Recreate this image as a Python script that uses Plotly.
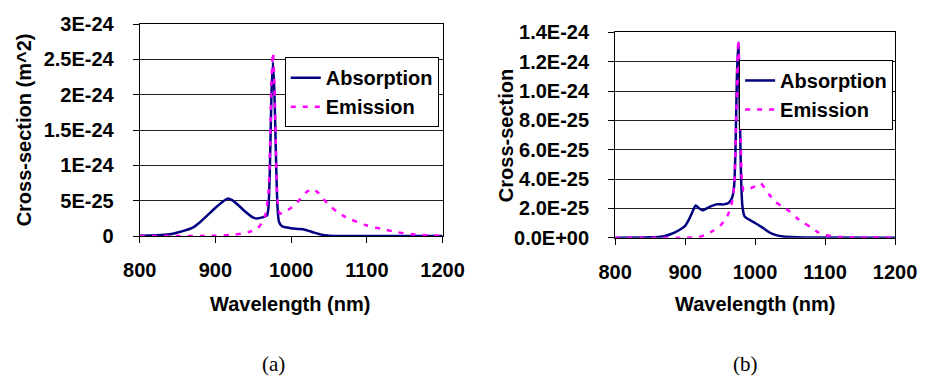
import plotly.graph_objects as go

# ---------------- data (cross-sections in units of 1e-25 m^2) ----------------
wl_abs_a = [800, 820, 840, 850, 860, 870, 880, 890, 900, 910, 916, 922, 930, 940, 950, 955,
            962, 968, 970, 972, 974, 976, 978, 980, 982, 984, 988, 995, 1000, 1010, 1018,
            1030, 1040, 1050, 1070, 1100, 1200]
abs_a = [0.05, 0.1, 0.25, 0.5, 0.8, 1.2, 2.0, 3.0, 4.0, 4.9, 5.3, 5.1, 4.4, 3.4, 2.6, 2.5,
         2.65, 2.9, 4.0, 10.0, 20.0, 24.6, 20.0, 11.0, 4.0, 2.0, 1.4, 1.2, 1.1, 1.0, 0.9,
         0.5, 0.2, 0.06, 0.02, 0.01, 0.0]

wl_em_a = [800, 850, 880, 900, 920, 935, 945, 955, 962, 966, 970, 972, 974, 976, 978, 980,
           982, 985, 990, 1000, 1010, 1020, 1028, 1035, 1040, 1050, 1060, 1070, 1080, 1090,
           1100, 1120, 1140, 1160, 1180, 1200]
em_a = [0.0, 0.0, 0.02, 0.05, 0.15, 0.35, 0.6, 1.0, 2.0, 3.0, 6.0, 12.0, 22.0, 26.0, 21.0, 12.0,
        5.0, 3.2, 3.3, 4.0, 5.0, 6.2, 6.7, 6.2, 5.6, 4.4, 3.5, 2.8, 2.3, 1.9,
        1.5, 1.0, 0.55, 0.25, 0.1, 0.05]

wl_abs_b = [800, 850, 870, 880, 890, 900, 905, 910, 915, 920, 925, 935, 945, 955, 962, 967,
            970, 972, 974, 976, 978, 980, 982, 985, 990, 1000, 1010, 1020, 1030, 1040, 1060,
            1080, 1200]
abs_b = [0.0, 0.02, 0.1, 0.25, 0.47, 0.8, 1.2, 1.7, 2.2, 2.0, 1.87, 2.1, 2.27, 2.27, 2.36, 2.7,
         3.5, 6.0, 11.0, 13.3, 9.0, 4.0, 2.1, 1.45, 1.27, 1.0, 0.7, 0.37, 0.17, 0.08, 0.03,
         0.01, 0.0]

wl_em_b = [800, 900, 915, 920, 930, 940, 950, 960, 966, 970, 973, 976, 979, 981, 984, 990,
           1000, 1008, 1020, 1030, 1040, 1050, 1060, 1070, 1080, 1090, 1100, 1120, 1140, 1200]
em_b = [0.0, 0.0, 0.02, 0.05, 0.2, 0.47, 0.8, 1.44, 2.2, 3.5, 8.0, 13.5, 8.0, 4.0, 3.2, 3.3,
        3.5, 3.7, 2.95, 2.4, 2.1, 1.77, 1.33, 1.0, 0.7, 0.37, 0.17, 0.05, 0.02, 0.0]

x_ticks = [800, 900, 1000, 1100, 1200]
y_ticks_a = [0, 5e-25, 1e-24, 1.5e-24, 2e-24, 2.5e-24, 3e-24]
y_text_a = ["0", "5E-25", "1E-24", "1.5E-24", "2E-24", "2.5E-24", "3E-24"]
y_ticks_b = [0, 2e-25, 4e-25, 6e-25, 8e-25, 1e-24, 1.2e-24, 1.4e-24]
y_text_b = ["0.0E+00", "2.0E-25", "4.0E-25", "6.0E-25", "8.0E-25", "1.0E-24", "1.2E-24", "1.4E-24"]

SCALE = 1e-25
NAVY = "#000080"
MAG = "#FF00FF"
FONT = "Liberation Sans, Arial, sans-serif"

fig = go.Figure()

def add_pair(wa, a, we, e, xa, ya, leg):
    fig.add_trace(go.Scatter(x=wa, y=[v * SCALE for v in a], mode="lines", name="Absorption",
                             line=dict(color=NAVY, width=2.5, shape="spline", smoothing=0.6),
                             xaxis=xa, yaxis=ya, legend=leg))
    fig.add_trace(go.Scatter(x=we, y=[v * SCALE for v in e], mode="lines", name="Emission",
                             line=dict(color=MAG, width=2.5, dash="5px,7px", shape="spline", smoothing=0.6),
                             xaxis=xa, yaxis=ya, legend=leg))

add_pair(wl_abs_a, abs_a, wl_em_a, em_a, "x", "y", "legend")
add_pair(wl_abs_b, abs_b, wl_em_b, em_b, "x2", "y2", "legend2")

W, H = 941, 377
tickfont = dict(family=FONT, size=20, color="black", weight="bold")

xcommon = dict(range=[800, 1200], tickvals=x_ticks, ticktext=[str(t) for t in x_ticks],
               showgrid=False, zeroline=False, showline=True, linecolor="black", linewidth=1,
               mirror=True, ticks="outside", ticklen=6, tickcolor="black", tickfont=tickfont,
               ticklabelstandoff=10)
ycommon = dict(showgrid=True, gridcolor="#222222", gridwidth=1, zeroline=False, showline=True,
               linecolor="black", linewidth=1, mirror=True, ticks="outside", ticklen=6,
               tickcolor="black", tickfont=tickfont, ticklabelstandoff=15)

legfont = dict(family=FONT, size=20, color="black", weight="bold")
fig.update_layout(
    width=W, height=H,
    margin=dict(l=0, r=0, t=0, b=0),
    paper_bgcolor="white", plot_bgcolor="white",
    font=dict(family=FONT, color="black"),
    xaxis=dict(domain=[128 / W, 444 / W], anchor="y", **xcommon),
    yaxis=dict(domain=[1 - 239 / H, 1 - 14 / H], anchor="x", range=[0, 3e-24],
               tickvals=y_ticks_a, ticktext=y_text_a, **ycommon),
    xaxis2=dict(domain=[624 / W, 916 / W], anchor="y2", **xcommon),
    yaxis2=dict(domain=[1 - 240.7 / H, 1 - 22.7 / H], anchor="x2", range=[0, 1.4e-24],
                tickvals=y_ticks_b, ticktext=y_text_b, **ycommon),
    legend=dict(x=440 / W, y=1 - 49 / H, xanchor="right", yanchor="top",
                bgcolor="white", bordercolor="black", borderwidth=1,
                font=legfont, tracegroupgap=0, itemwidth=30),
    legend2=dict(x=914 / W, y=1 - 52 / H, xanchor="right", yanchor="top",
                 bgcolor="white", bordercolor="black", borderwidth=1,
                 font=legfont, tracegroupgap=0, itemwidth=30),
    showlegend=True,
)

title_font = dict(family=FONT, size=20, color="black", weight="bold")
cap_font = dict(family="Liberation Serif, Times New Roman, serif", size=21, color="black")
ann = [
    dict(text="Wavelength (nm)", x=285 / W, y=1 - 311 / H, font=title_font, textangle=0),
    dict(text="Wavelength (nm)", x=770 / W, y=1 - 311 / H, font=title_font, textangle=0),
    dict(text="Cross-section (m^2)", x=7 / W, y=1 - 126 / H, font=title_font, textangle=-90),
    dict(text="Cross-section", x=510 / W, y=1 - 132 / H, font=title_font, textangle=-90),
    dict(text="(a)", x=268 / W, y=1 - 375 / H, font=cap_font),
    dict(text="(b)", x=760 / W, y=1 - 375 / H, font=cap_font),
]
for a in ann:
    fig.add_annotation(xref="paper", yref="paper", showarrow=False,
                       xanchor="center", yanchor="middle", **a)

fig.write_html("out.html")
